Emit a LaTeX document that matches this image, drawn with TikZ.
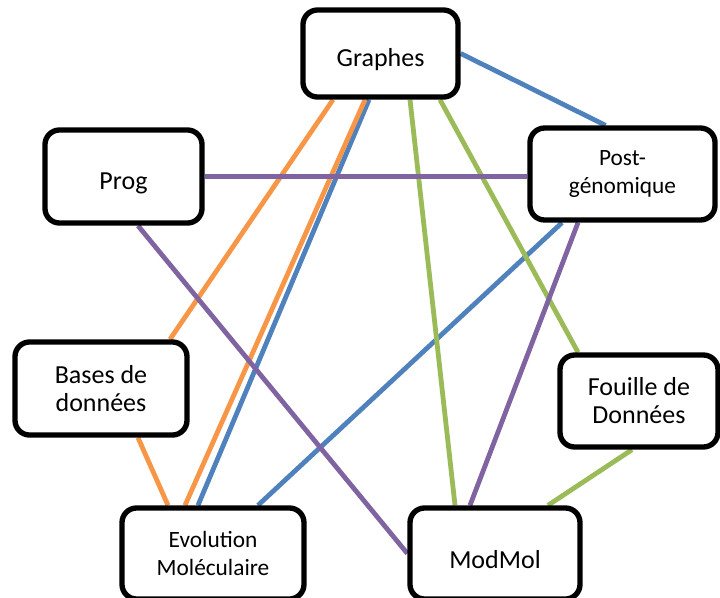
\documentclass[tikz,border=0pt]{standalone}
\usepackage{fontspec}
\setmainfont{Carlito}
\usetikzlibrary{calc,backgrounds}
\definecolor{lienbleu}{HTML}{4F81BD}
\definecolor{lienorange}{HTML}{F79646}
\definecolor{lienvert}{HTML}{9BBB59}
\definecolor{lienviolet}{HTML}{8064A2}

\begin{document}
\begin{tikzpicture}[x=0.75pt,y=-0.75pt,
  boite/.style={draw,line width=4pt,rounded corners=11pt,fill=white,align=center,inner sep=0pt,
    font=\fontsize{19.5}{21}\selectfont,execute at begin node={\rule{0pt}{23pt}}},
  petit/.style={font=\fontsize{17.5}{21.5}\selectfont,execute at begin node={\rule{0pt}{22pt}}},
  lien/.style={line width=3.6pt}]
\useasboundingbox (0,0) rectangle (720,597);
\node[boite,minimum width=116.3pt,minimum height=65.3pt] (graphes) at (380.5,53.5) {Graphes};
\node[boite,minimum width=117.8pt,minimum height=69.8pt] (prog) at (123.5,176.5) {Prog};
\node[boite,petit,minimum width=138.8pt,minimum height=69pt] (post) at (622.5,174) {Post-\\génomique};
\node[boite,minimum width=129pt,minimum height=69.8pt] (bdd) at (101,388.5) {Bases de\\données};
\node[boite,minimum width=118.5pt,minimum height=69pt] (fouille) at (639,401) {Fouille de\\Données};
\node[boite,petit,execute at begin node={},minimum width=136.5pt,minimum height=68.3pt] (evol) at (213,553.5) {Evolution\\Moléculaire};
\node[boite,minimum width=127.5pt,minimum height=68.3pt] (modmol) at (495,553.5) {ModMol};
\begin{scope}[on background layer]
% bleu
\draw[lien,lienbleu] (graphes.east) -- ($(post.north)+(-17,0)$);
\draw[lien,lienbleu] ($(graphes.south)+(-11.5,0)$) -- ($(evol.north)+(-15,0)$);
\draw[lien,lienbleu] ($(post.south)+(-60.5,0)$) -- ($(evol.north)+(45,0)$);
% vert
\draw[lien,lienvert] ($(graphes.south)+(29.5,0)$) -- ($(modmol.north)+(-40,0)$);
\draw[lien,lienvert] ($(graphes.south)+(59.5,0)$) -- ($(fouille.north)+(-61,0)$);
\draw[lien,lienvert] ($(fouille.south)+(-7,0)$) -- ($(modmol.north)+(53,0)$);
% orange
\draw[lien,lienorange] ($(graphes.south)+(-47.5,0)$) -- ($(bdd.north)+(69,0)$);
\draw[lien,lienorange] ($(graphes.south)+(-15.5,0)$) -- ($(evol.north)+(-28,0)$);
\draw[lien,lienorange] ($(bdd.south)+(37,0)$) -- ($(evol.north)+(-45,0)$);
% violet
\draw[lien,lienviolet] (prog.east) -- (prog.east -| post.west);
\draw[lien,lienviolet] ($(prog.south)+(14.5,0)$) -- (modmol.west);
\draw[lien,lienviolet] ($(post.south)+(-44.5,0)$) -- ($(modmol.north)+(-25,0)$);
\end{scope}
\end{tikzpicture}
\end{document}
